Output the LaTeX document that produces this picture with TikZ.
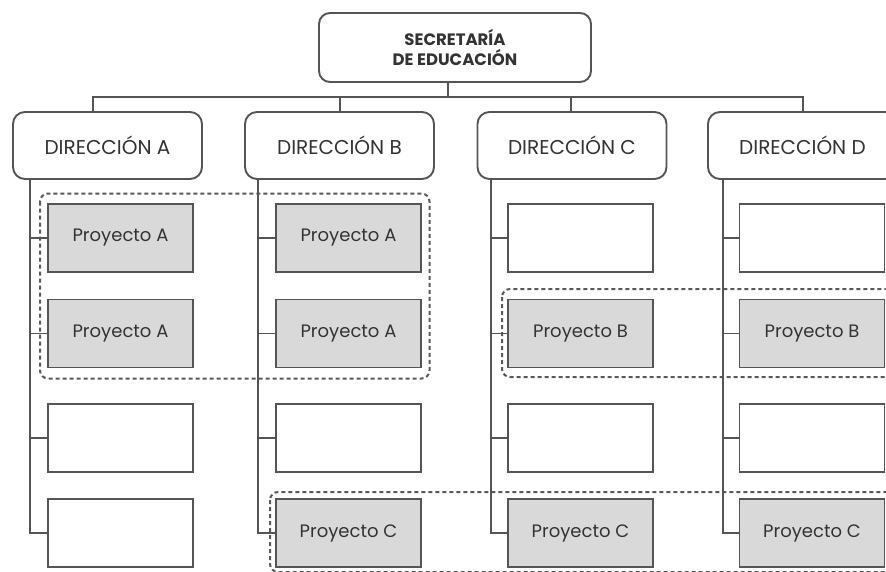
\documentclass[tikz,border=0pt]{standalone}
\usepackage{fontspec}
\setmainfont{Poppins}
\usetikzlibrary{fit}
\definecolor{lin}{HTML}{555555}
\definecolor{dsh}{HTML}{5A5A5A}
\definecolor{fil}{HTML}{D9D9D9}
\definecolor{txt}{HTML}{333333}
\begin{document}
\begin{tikzpicture}[x=1pt,y=-1pt,
  every node/.style={text=txt},
  conn/.style={draw=lin,line width=1.9pt},
  topbox/.style={draw=lin,line width=1.9pt,rounded corners=11pt,minimum width=272pt,minimum height=69pt,inner sep=0pt,align=center,font=\fontsize{16.5}{20}\selectfont\bfseries},
  dirbox/.style={draw=lin,line width=1.9pt,rounded corners=12pt,minimum width=189pt,minimum height=67pt,inner sep=0pt,font=\fontsize{20}{24}\selectfont},
  projbox/.style={draw=lin,line width=1.9pt,fill=fil,minimum width=145pt,minimum height=68pt,inner sep=0pt,font=\fontsize{18}{21}\selectfont},
  emptybox/.style={draw=lin,line width=1.9pt,fill=white,minimum width=145pt,minimum height=68pt,inner sep=0pt},
  grp/.style={draw=dsh,line width=2pt,dash pattern=on 4pt off 3pt,rounded corners=8pt}
]
\clip (0,0) rectangle (886,571);
\fill[white] (0,0) rectangle (886,571);

% groups (dashed)
\draw[grp] (40,193.5) rectangle (429.5,378.5);
\draw[grp] (502,289) rectangle (900,377);
\draw[grp] (270,492) rectangle (900,572);

% top
\node[topbox] (top) at (455,47.5) {SECRETARÍA\\DE EDUCACIÓN};

% directors
\node[dirbox] (dA) at (107.5,145.5) {DIRECCIÓN A};
\node[dirbox] (dB) at (339.5,145.5) {DIRECCIÓN B};
\node[dirbox] (dC) at (572,145.5) {DIRECCIÓN C};
\node[dirbox] (dD) at (802.5,145.5) {DIRECCIÓN D};

% bus
\coordinate (bT) at (448,97);
\coordinate (bA) at (93,97);
\coordinate (bB) at (340,97);
\coordinate (bC) at (571,97);
\coordinate (bD) at (803,97);
\draw[conn] (top.south -| bT) -- (bT);
\draw[conn] (bA |- dA.north) -- (bA) -- (bD) -- (bD |- dD.north);
\draw[conn] (bB) -- (bB |- dB.north);
\draw[conn] (bC) -- (bC |- dC.north);

% spine x positions
\coordinate (sA) at (30,0);
\coordinate (sB) at (258,0);
\coordinate (sC) at (491,0);
\coordinate (sD) at (723,0);

% column A
\node[projbox] (a1) at (120.5,238) {Proyecto A};
\node[projbox] (a2) at (120.5,333.5) {Proyecto A};
\node[emptybox] (a3) at (120.5,438) {};
\node[emptybox] (a4) at (120.5,533) {};
% column B
\node[projbox] (b1) at (348.5,238) {Proyecto A};
\node[projbox] (b2) at (348.5,333.5) {Proyecto A};
\node[emptybox] (b3) at (348.5,438) {};
\node[projbox] (b4) at (348.5,533) {Proyecto C};
% column C
\node[emptybox] (c1) at (580.5,238) {};
\node[projbox] (c2) at (580.5,333.5) {Proyecto B};
\node[emptybox] (c3) at (580.5,438) {};
\node[projbox] (c4) at (580.5,533) {Proyecto C};
% column D
\node[emptybox] (e1) at (812,238) {};
\node[projbox] (e2) at (812,333.5) {Proyecto B};
\node[emptybox] (e3) at (812,438) {};
\node[projbox] (e4) at (812,533) {Proyecto C};

% spines and ticks
\draw[conn] (sA |- dA.south) |- (a4.west);
\draw[conn] (sA |- a1.west) -- (a1.west);
\draw[conn] (sA |- a2.west) -- (a2.west);
\draw[conn] (sA |- a3.west) -- (a3.west);

\draw[conn] (sB |- dB.south) |- (b4.west);
\draw[conn] (sB |- b1.west) -- (b1.west);
\draw[conn] (sB |- b2.west) -- (b2.west);
\draw[conn] (sB |- b3.west) -- (b3.west);

\draw[conn] (sC |- dC.south) |- (c4.west);
\draw[conn] (sC |- c1.west) -- (c1.west);
\draw[conn] (sC |- c2.west) -- (c2.west);
\draw[conn] (sC |- c3.west) -- (c3.west);

\draw[conn] (sD |- dD.south) |- (e4.west);
\draw[conn] (sD |- e1.west) -- (e1.west);
\draw[conn] (sD |- e2.west) -- (e2.west);
\draw[conn] (sD |- e3.west) -- (e3.west);
\end{tikzpicture}
\end{document}
